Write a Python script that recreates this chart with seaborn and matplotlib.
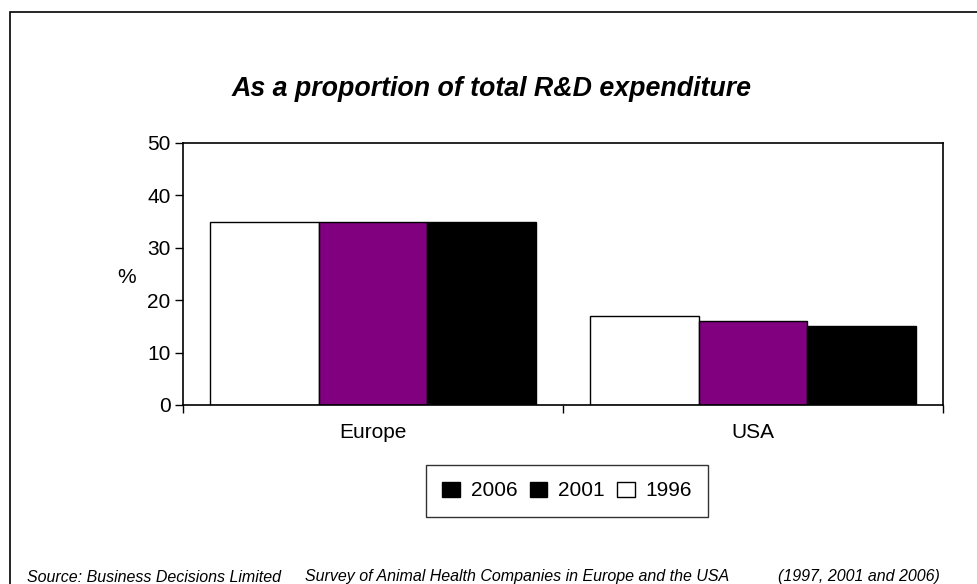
import matplotlib
matplotlib.use("Agg")
import matplotlib.pyplot as plt
from matplotlib.patches import Patch, Rectangle
import pandas as pd
import seaborn as sns

regions = ["Europe", "USA"]
years = ["1996", "2001", "2006"]
share_1996 = [35, 17]
share_2001 = [35, 16]
share_2006 = [35, 15]
y_ticks = [0, 10, 20, 30, 40, 50]

sns.set_theme(style="white")
plt.rcParams["font.family"] = ["Liberation Sans", "DejaVu Sans"]
plt.rcParams["text.color"] = "black"
plt.rcParams["axes.labelcolor"] = "black"
plt.rcParams["xtick.color"] = "black"
plt.rcParams["ytick.color"] = "black"

rows = []
for yr, vals in zip(years, [share_1996, share_2001, share_2006]):
    for reg, v in zip(regions, vals):
        rows.append({"region": reg, "year": yr, "share": v})
df = pd.DataFrame(rows)

W, H = 978, 584
fig = plt.figure(figsize=(W / 100, H / 100), dpi=100)
ax = fig.add_axes([183 / W, 1 - 405 / H, (943 - 183) / W, (405 - 143) / H])

palette = {"1996": "#ffffff", "2001": "#800080", "2006": "#000000"}
sns.barplot(data=df, x="region", y="share", hue="year", hue_order=years,
            order=regions, palette=palette, width=0.86, gap=0,
            edgecolor="black", linewidth=1.0, saturation=1, ax=ax,
            legend=False)

ax.set_xlim(-0.5, 1.5)
ax.set_ylim(0, 50)
ax.set_yticks(y_ticks)
ax.set_yticklabels([str(t) for t in y_ticks], fontsize=15)
ax.tick_params(axis="y", direction="out", length=6, width=1, color="black",
               labelcolor="black", left=True, pad=3)

# category boundaries carry the tick marks; names sit between them
ax.set_xticks([-0.5, 0.5, 1.5])
ax.set_xticklabels(["", "", ""])
ax.set_xticks([0, 1], minor=True)
ax.set_xticklabels(regions, minor=True, fontsize=15)
ax.tick_params(axis="x", which="major", direction="out", length=6, width=1,
               color="black", bottom=True)
ax.tick_params(axis="x", which="minor", length=0, pad=13, labelcolor="black")

ax.set_xlabel("")
ax.set_ylabel("%", fontsize=15, rotation=0, va="center", color="black")
ax.yaxis.set_label_coords(-0.074, 0.485)

for s in ax.spines.values():
    s.set_visible(True)
    s.set_color("black")
    s.set_linewidth(1.2)

fig.text(492 / W, 1 - 89 / H, "As a proportion of total R&D expenditure",
         ha="center", va="center", fontsize=19.3, fontweight="bold",
         fontstyle="italic", color="black")

handles = [Patch(facecolor="black", edgecolor="black"),
           Patch(facecolor="black", edgecolor="black"),
           Patch(facecolor="white", edgecolor="black")]
leg = fig.legend(handles, ["2006", "2001", "1996"], ncol=3, loc="center",
                 bbox_to_anchor=(567 / W, 1 - 491 / H), fontsize=15,
                 frameon=True, fancybox=False, handlelength=0.85,
                 handleheight=0.75, handletextpad=0.5, columnspacing=0.6,
                 borderpad=0.8, borderaxespad=0)
leg.get_frame().set_edgecolor("black")
leg.get_frame().set_linewidth(1.0)
for t in leg.get_texts():
    t.set_color("black")

src_y = 1 - 577 / H
for x, s in [(27, "Source: Business Decisions Limited"),
             (305, "Survey of Animal Health Companies in Europe and the USA"),
             (778, "(1997, 2001 and 2006)")]:
    fig.text(x / W, src_y, s, fontsize=11.5, fontstyle="italic",
             va="center", color="black")

# outer frame around the chart area
fig.patches.append(Rectangle((10 / W, -0.1), 1.2, 1 - 12 / H + 0.1,
                             transform=fig.transFigure, fill=False,
                             edgecolor="black", linewidth=1.2))

fig.savefig("out.png", dpi=100)
